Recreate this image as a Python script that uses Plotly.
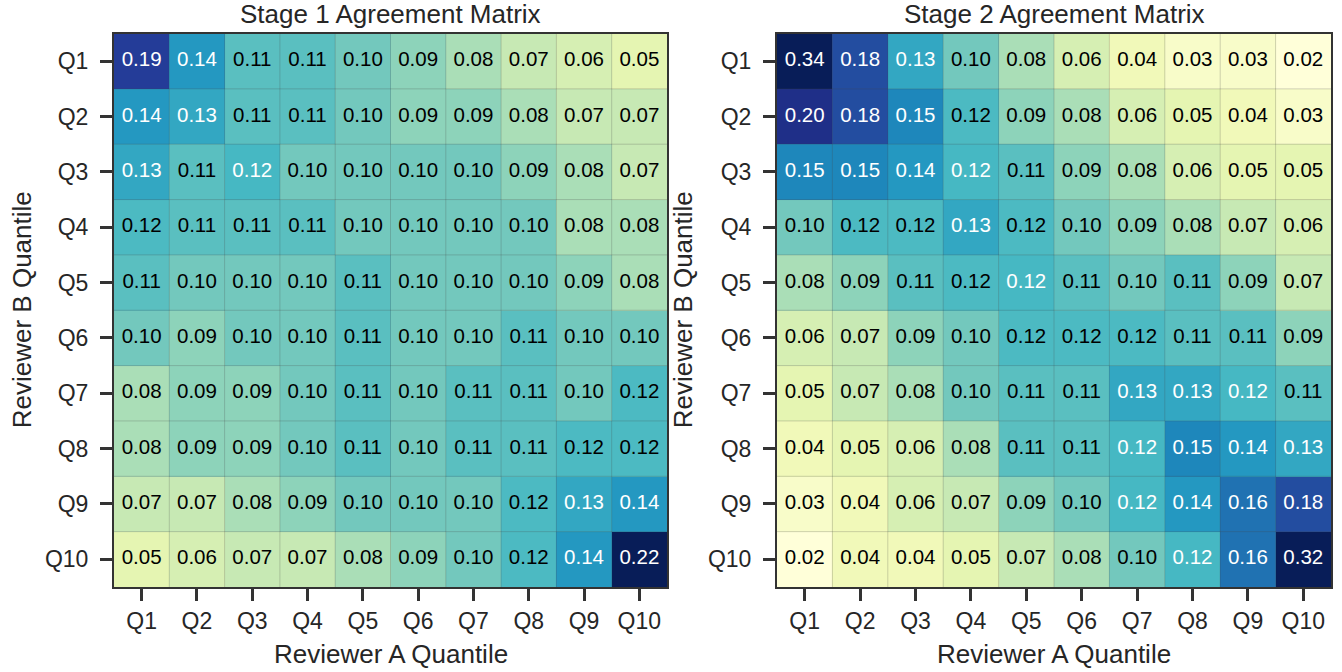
import plotly.graph_objects as go

# ---------------- data ----------------
quantiles = ["Q1", "Q2", "Q3", "Q4", "Q5", "Q6", "Q7", "Q8", "Q9", "Q10"]

# rows = Reviewer B quantile (Q1..Q10), cols = Reviewer A quantile (Q1..Q10)
stage1 = [
    [0.19, 0.14, 0.11, 0.11, 0.10, 0.09, 0.08, 0.07, 0.06, 0.05],
    [0.14, 0.13, 0.11, 0.11, 0.10, 0.09, 0.09, 0.08, 0.07, 0.07],
    [0.13, 0.11, 0.118, 0.10, 0.10, 0.10, 0.10, 0.09, 0.08, 0.07],
    [0.1155, 0.11, 0.11, 0.11, 0.10, 0.10, 0.10, 0.10, 0.08, 0.08],
    [0.11, 0.10, 0.10, 0.10, 0.11, 0.10, 0.10, 0.10, 0.09, 0.08],
    [0.10, 0.09, 0.10, 0.10, 0.11, 0.10, 0.10, 0.11, 0.10, 0.10],
    [0.08, 0.09, 0.09, 0.10, 0.11, 0.10, 0.11, 0.11, 0.10, 0.1155],
    [0.08, 0.09, 0.09, 0.10, 0.11, 0.10, 0.11, 0.11, 0.1155, 0.1155],
    [0.07, 0.07, 0.08, 0.09, 0.10, 0.10, 0.10, 0.1155, 0.13, 0.14],
    [0.05, 0.06, 0.07, 0.07, 0.08, 0.09, 0.10, 0.1155, 0.14, 0.22],
]

stage2 = [
    [0.34, 0.18, 0.13, 0.10, 0.08, 0.06, 0.04, 0.03, 0.03, 0.02],
    [0.20, 0.18, 0.15, 0.1155, 0.09, 0.08, 0.06, 0.05, 0.04, 0.03],
    [0.15, 0.15, 0.14, 0.118, 0.11, 0.09, 0.08, 0.06, 0.05, 0.05],
    [0.10, 0.1155, 0.1155, 0.13, 0.1155, 0.10, 0.09, 0.08, 0.07, 0.06],
    [0.08, 0.09, 0.11, 0.1155, 0.118, 0.11, 0.10, 0.11, 0.09, 0.07],
    [0.06, 0.07, 0.09, 0.10, 0.1155, 0.1155, 0.1155, 0.11, 0.11, 0.09],
    [0.05, 0.07, 0.08, 0.10, 0.11, 0.11, 0.13, 0.13, 0.118, 0.11],
    [0.04, 0.05, 0.06, 0.08, 0.11, 0.11, 0.118, 0.15, 0.14, 0.13],
    [0.03, 0.04, 0.06, 0.07, 0.09, 0.10, 0.118, 0.14, 0.16, 0.18],
    [0.02, 0.04, 0.04, 0.05, 0.07, 0.08, 0.10, 0.118, 0.16, 0.32],
]

titles = ["Stage 1 Agreement Matrix", "Stage 2 Agreement Matrix"]
x_label = "Reviewer A Quantile"
y_label = "Reviewer B Quantile"

# ---------------- style ----------------
ZMIN, ZMAX = 0.02, 0.22
ylgnbu = ["#ffffd9", "#edf8b1", "#c7e9b4", "#7fcdbb", "#41b6c4",
          "#1d91c0", "#225ea8", "#253494", "#081d58"]
colorscale = [[i / (len(ylgnbu) - 1), c] for i, c in enumerate(ylgnbu)]
WHITE_T = 0.48

W, H = 1342, 672
FONT = "Liberation Sans, Arial, Helvetica, sans-serif"
DARK = "#262626"
FRAME = "#333333"


def px_x(p):
    return p / W


def px_y(p):
    return 1 - p / H


top_px, bot_px = 33.5, 587
x_domains = [(px_x(114), px_x(667)), (px_x(777), px_x(1331))]
y_domain = (px_y(bot_px), px_y(top_px))

fig = go.Figure()
n = len(quantiles)

for k, (z, title) in enumerate(zip([stage1, stage2], titles)):
    sfx = "" if k == 0 else "2"
    xa, ya = "x" + sfx, "y" + sfx
    fig.add_trace(go.Heatmap(
        z=z, x=quantiles, y=quantiles, colorscale=colorscale,
        zmin=ZMIN, zmax=ZMAX, showscale=False, xaxis=xa, yaxis=ya,
        hoverinfo="skip"))
    for col_name, is_white in (("white", True), ("black", False)):
        xs, ys, ts = [], [], []
        for i, row in enumerate(z):
            for j, v in enumerate(row):
                t = (v - ZMIN) / (ZMAX - ZMIN)
                if (t > WHITE_T) == is_white:
                    xs.append(quantiles[j])
                    ys.append(quantiles[i])
                    ts.append(f"{v:.2f}")
        fig.add_trace(go.Scatter(
            x=xs, y=ys, text=ts, mode="text", xaxis=xa, yaxis=ya,
            textfont=dict(family=FONT, size=20.5, color=col_name),
            hoverinfo="skip", showlegend=False))

    axis_common = dict(
        showline=True, mirror=True, linecolor=FRAME, linewidth=2,
        ticks="outside", ticklen=12, tickwidth=2.5, tickcolor=FRAME,
        tickfont=dict(family=FONT, size=23, color=DARK),
        showgrid=False, zeroline=False, fixedrange=True, type="category")
    fig.update_layout(**{
        "xaxis" + sfx: dict(axis_common, domain=x_domains[k], anchor=ya,
                            range=[-0.5, n - 0.5]),
        "yaxis" + sfx: dict(axis_common, domain=y_domain, anchor=xa,
                            range=[n - 0.5, -0.5], ticklabelstandoff=7),
    })

    # thin cell separators
    for b in range(1, n):
        fig.add_shape(type="line", xref=xa, yref=ya, x0=b - 0.5, x1=b - 0.5,
                      y0=-0.5, y1=n - 0.5, line=dict(color="rgba(70,70,70,0.24)", width=1),
                      layer="above")
        fig.add_shape(type="line", xref=xa, yref=ya, y0=b - 0.5, y1=b - 0.5,
                      x0=-0.5, x1=n - 0.5, line=dict(color="rgba(70,70,70,0.24)", width=1),
                      layer="above")

    xc = (x_domains[k][0] + x_domains[k][1]) / 2
    fig.add_annotation(text=title, xref="paper", yref="paper", x=xc, y=y_domain[1],
                       xanchor="center", yanchor="bottom", yshift=2, showarrow=False,
                       font=dict(family=FONT, size=26, color=DARK))
    fig.add_annotation(text=x_label, xref="paper", yref="paper", x=xc, y=0,
                       xanchor="center", yanchor="bottom", yshift=1, showarrow=False,
                       font=dict(family=FONT, size=26, color=DARK))
    ylab_x = px_x(22 if k == 0 else 683)
    fig.add_annotation(text=y_label, xref="paper", yref="paper", x=ylab_x,
                       y=(y_domain[0] + y_domain[1]) / 2, textangle=-90,
                       xanchor="center", yanchor="middle", showarrow=False,
                       font=dict(family=FONT, size=26, color=DARK))

fig.update_layout(
    width=W, height=H, margin=dict(l=0, r=0, t=0, b=0),
    paper_bgcolor="white", plot_bgcolor="white", showlegend=False,
    font=dict(family=FONT, color=DARK))

# remove the browser's default 8px page margin so the figure fills the window
fig.write_html("out.html",
               config={"displayModeBar": False},
               post_script="document.body.style.margin='0';"
                           "document.body.style.overflow='hidden';")
